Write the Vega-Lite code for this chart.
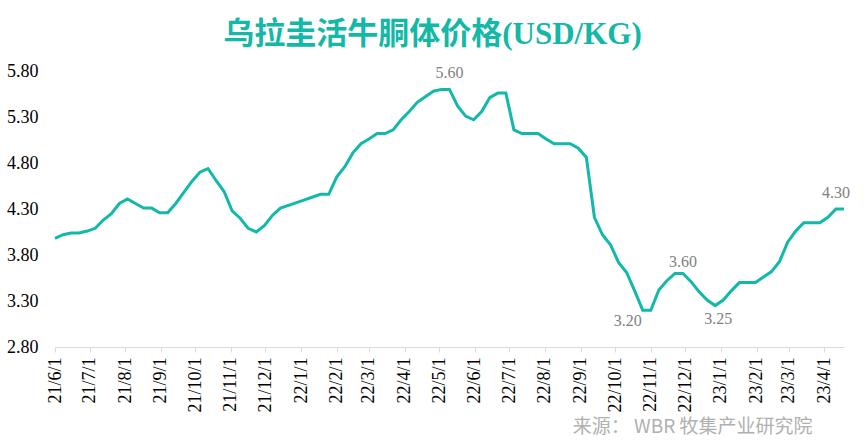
{
  "$schema": "https://vega.github.io/schema/vega-lite/v6.json",
  "width": 789,
  "height": 276,
  "autosize": {"type": "none"},
  "padding": {"left": 55, "top": 71, "right": 22, "bottom": 95},
  "title": {
    "text": "乌拉圭活牛胴体价格(USD/KG)",
    "font": "Liberation Serif, Noto Sans CJK SC",
    "fontSize": 31,
    "fontWeight": "bold",
    "color": "#14B8A6",
    "anchor": "middle",
    "dx": -17,
    "offset": 11
  },
  "config": {
    "view": {"stroke": null},
    "font": "Liberation Serif",
    "axis": {"labelFont": "Liberation Serif"},
    "axisY": {"labelFontSize": 18, "labelFont": "Liberation Serif"},
    "axisX": {"labelFontSize": 18, "labelFont": "Liberation Serif"}
  },
  "datasets": {
    "prices": [
      {"date": "2021/06/01", "price": 3.98},
      {"date": "2021/06/08", "price": 4.02},
      {"date": "2021/06/15", "price": 4.04},
      {"date": "2021/06/22", "price": 4.04},
      {"date": "2021/06/29", "price": 4.06},
      {"date": "2021/07/06", "price": 4.09},
      {"date": "2021/07/13", "price": 4.18},
      {"date": "2021/07/20", "price": 4.25},
      {"date": "2021/07/27", "price": 4.36},
      {"date": "2021/08/03", "price": 4.41},
      {"date": "2021/08/10", "price": 4.36},
      {"date": "2021/08/17", "price": 4.31},
      {"date": "2021/08/24", "price": 4.31},
      {"date": "2021/08/31", "price": 4.26},
      {"date": "2021/09/07", "price": 4.26},
      {"date": "2021/09/14", "price": 4.36},
      {"date": "2021/09/21", "price": 4.48},
      {"date": "2021/09/28", "price": 4.60},
      {"date": "2021/10/05", "price": 4.70},
      {"date": "2021/10/12", "price": 4.74},
      {"date": "2021/10/19", "price": 4.61},
      {"date": "2021/10/26", "price": 4.49},
      {"date": "2021/11/02", "price": 4.28},
      {"date": "2021/11/09", "price": 4.20},
      {"date": "2021/11/16", "price": 4.09},
      {"date": "2021/11/23", "price": 4.05},
      {"date": "2021/11/30", "price": 4.12},
      {"date": "2021/12/07", "price": 4.23},
      {"date": "2021/12/14", "price": 4.31},
      {"date": "2021/12/21", "price": 4.34},
      {"date": "2021/12/28", "price": 4.37},
      {"date": "2022/01/04", "price": 4.40},
      {"date": "2022/01/11", "price": 4.43},
      {"date": "2022/01/18", "price": 4.46},
      {"date": "2022/01/25", "price": 4.46},
      {"date": "2022/02/01", "price": 4.65},
      {"date": "2022/02/08", "price": 4.76},
      {"date": "2022/02/15", "price": 4.91},
      {"date": "2022/02/22", "price": 5.01},
      {"date": "2022/03/01", "price": 5.06},
      {"date": "2022/03/08", "price": 5.12},
      {"date": "2022/03/15", "price": 5.12},
      {"date": "2022/03/22", "price": 5.16},
      {"date": "2022/03/29", "price": 5.27},
      {"date": "2022/04/05", "price": 5.36},
      {"date": "2022/04/12", "price": 5.46},
      {"date": "2022/04/19", "price": 5.52},
      {"date": "2022/04/26", "price": 5.58},
      {"date": "2022/05/03", "price": 5.60},
      {"date": "2022/05/10", "price": 5.60},
      {"date": "2022/05/17", "price": 5.42},
      {"date": "2022/05/24", "price": 5.31},
      {"date": "2022/05/31", "price": 5.27},
      {"date": "2022/06/07", "price": 5.36},
      {"date": "2022/06/14", "price": 5.51},
      {"date": "2022/06/21", "price": 5.56},
      {"date": "2022/06/28", "price": 5.56},
      {"date": "2022/07/05", "price": 5.16},
      {"date": "2022/07/12", "price": 5.12},
      {"date": "2022/07/19", "price": 5.12},
      {"date": "2022/07/26", "price": 5.12},
      {"date": "2022/08/02", "price": 5.06},
      {"date": "2022/08/09", "price": 5.01},
      {"date": "2022/08/16", "price": 5.01},
      {"date": "2022/08/23", "price": 5.01},
      {"date": "2022/08/30", "price": 4.96},
      {"date": "2022/09/06", "price": 4.86},
      {"date": "2022/09/13", "price": 4.21},
      {"date": "2022/09/20", "price": 4.02},
      {"date": "2022/09/27", "price": 3.91},
      {"date": "2022/10/04", "price": 3.72},
      {"date": "2022/10/11", "price": 3.61},
      {"date": "2022/10/18", "price": 3.41},
      {"date": "2022/10/25", "price": 3.20},
      {"date": "2022/11/01", "price": 3.20},
      {"date": "2022/11/08", "price": 3.42},
      {"date": "2022/11/15", "price": 3.52},
      {"date": "2022/11/22", "price": 3.60},
      {"date": "2022/11/29", "price": 3.60},
      {"date": "2022/12/06", "price": 3.51},
      {"date": "2022/12/13", "price": 3.40},
      {"date": "2022/12/20", "price": 3.31},
      {"date": "2022/12/27", "price": 3.25},
      {"date": "2023/01/03", "price": 3.31},
      {"date": "2023/01/10", "price": 3.41},
      {"date": "2023/01/17", "price": 3.50},
      {"date": "2023/01/24", "price": 3.50},
      {"date": "2023/01/31", "price": 3.50},
      {"date": "2023/02/07", "price": 3.56},
      {"date": "2023/02/14", "price": 3.62},
      {"date": "2023/02/21", "price": 3.73},
      {"date": "2023/02/28", "price": 3.94},
      {"date": "2023/03/07", "price": 4.06},
      {"date": "2023/03/14", "price": 4.15},
      {"date": "2023/03/21", "price": 4.15},
      {"date": "2023/03/28", "price": 4.15},
      {"date": "2023/04/04", "price": 4.21},
      {"date": "2023/04/11", "price": 4.30},
      {"date": "2023/04/18", "price": 4.30}
    ],
    "labels": [
      {"date": "2022/05/10", "price": 5.60, "label": "5.60"},
      {"date": "2022/10/25", "price": 3.20, "label": "3.20"},
      {"date": "2022/11/29", "price": 3.60, "label": "3.60"},
      {"date": "2022/12/27", "price": 3.25, "label": "3.25"},
      {"date": "2023/04/11", "price": 4.30, "label": "4.30"}
    ]
  },
  "encoding": {
    "x": {
      "field": "date",
      "type": "temporal",
      "scale": {
        "domain": [{"year": 2021, "month": 6, "date": 1}, {"year": 2023, "month": 4, "date": 18}],
        "nice": false
      },
      "axis": {
        "title": "来源： WBR 牧集产业研究院",
        "format": "%y/%-m/%-d",
        "values": [
          {"year": 2021, "month": 6, "date": 1},
          {"year": 2021, "month": 7, "date": 1},
          {"year": 2021, "month": 8, "date": 1},
          {"year": 2021, "month": 9, "date": 1},
          {"year": 2021, "month": 10, "date": 1},
          {"year": 2021, "month": 11, "date": 1},
          {"year": 2021, "month": 12, "date": 1},
          {"year": 2022, "month": 1, "date": 1},
          {"year": 2022, "month": 2, "date": 1},
          {"year": 2022, "month": 3, "date": 1},
          {"year": 2022, "month": 4, "date": 1},
          {"year": 2022, "month": 5, "date": 1},
          {"year": 2022, "month": 6, "date": 1},
          {"year": 2022, "month": 7, "date": 1},
          {"year": 2022, "month": 8, "date": 1},
          {"year": 2022, "month": 9, "date": 1},
          {"year": 2022, "month": 10, "date": 1},
          {"year": 2022, "month": 11, "date": 1},
          {"year": 2022, "month": 12, "date": 1},
          {"year": 2023, "month": 1, "date": 1},
          {"year": 2023, "month": 2, "date": 1},
          {"year": 2023, "month": 3, "date": 1},
          {"year": 2023, "month": 4, "date": 1}
        ],
        "labelAngle": -90,
        "labelColor": "#000000",
        "labelPadding": 5,
        "labelFlush": false,
        "labelOverlap": false,
        "domainColor": "#D9D9D9",
        "tickColor": "#D9D9D9",
        "tickSize": 5,
        "grid": false,
        "titleFont": "Noto Sans CJK SC",
        "titleFontSize": 19,
        "titleFontWeight": "normal",
        "titleColor": "#B0B0B0",
        "titleAlign": "right",
        "titleBaseline": "middle",
        "titleX": 757,
        "titleY": 79
      }
    },
    "y": {
      "field": "price",
      "type": "quantitative",
      "scale": {"domain": [2.8, 5.8], "nice": false, "zero": false},
      "axis": {
        "title": null,
        "values": [2.8, 3.3, 3.8, 4.3, 4.8, 5.3, 5.8],
        "format": ".2f",
        "grid": false,
        "domain": false,
        "ticks": false,
        "labelPadding": 17,
        "labelColor": "#000000"
      }
    }
  },
  "layer": [
    {
      "data": {"name": "prices"},
      "mark": {"type": "line", "color": "#12B9A8", "strokeWidth": 3}
    },
    {
      "data": {"name": "labels"},
      "transform": [{"filter": "datum.label == '5.60' || datum.label == '4.30'"}],
      "mark": {"type": "text", "font": "Liberation Serif", "fontSize": 16, "color": "#7F7F7F", "dy": -16},
      "encoding": {"text": {"field": "label"}}
    },
    {
      "data": {"name": "labels"},
      "transform": [{"filter": "datum.label == '3.60'"}],
      "mark": {"type": "text", "font": "Liberation Serif", "fontSize": 16, "color": "#7F7F7F", "dy": -11},
      "encoding": {"text": {"field": "label"}}
    },
    {
      "data": {"name": "labels"},
      "transform": [{"filter": "datum.label == '3.25'"}],
      "mark": {"type": "text", "font": "Liberation Serif", "fontSize": 16, "color": "#7F7F7F", "dy": 13, "dx": 3},
      "encoding": {"text": {"field": "label"}}
    },
    {
      "data": {"name": "labels"},
      "transform": [{"filter": "datum.label == '3.20'"}],
      "mark": {"type": "text", "font": "Liberation Serif", "fontSize": 16, "color": "#7F7F7F", "dy": 11, "dx": -15},
      "encoding": {"text": {"field": "label"}}
    }
  ]
}
